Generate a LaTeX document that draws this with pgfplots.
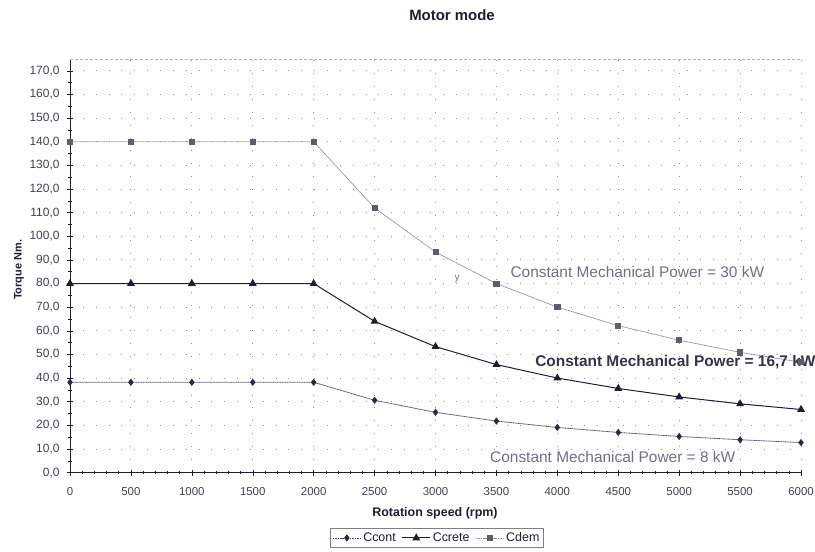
\documentclass[border=0pt]{standalone}
\usepackage{pgfplots}
\pgfplotsset{compat=1.18}
\usepackage{fontspec}
\setmainfont{Liberation Sans}

\definecolor{ink}{HTML}{1C1F33}
\definecolor{contline}{HTML}{4A4E64}
\definecolor{contmark}{HTML}{262A44}
\definecolor{demline}{HTML}{8E909C}
\definecolor{demmark}{HTML}{5A5E70}
\definecolor{gridc}{HTML}{8A8FA8}
\definecolor{notegray}{HTML}{6E7080}

% torque values (Nm)
\pgfplotstableread{
n     ccont  ccrete  cdem
0     38.2   80.0    140.0
500   38.2   80.0    140.0
1000  38.2   80.0    140.0
1500  38.2   80.0    140.0
2000  38.2   80.0    140.0
2500  30.6   64.0    112.0
3000  25.5   53.3    93.3
3500  21.8   45.7    80.0
4000  19.1   40.0    70.0
4500  17.0   35.6    62.2
5000  15.3   32.0    56.0
5500  13.9   29.1    50.9
6000  12.7   26.7    46.7
}\motordata

\begin{document}
\begin{tikzpicture}
\useasboundingbox (-70bp,-79.4bp) rectangle (745bp,472.6bp);
\begin{axis}[
  at={(0,0)}, anchor=south west,
  scale only axis, width=731bp, height=413.6bp,
  xmin=0, xmax=6000, ymin=0, ymax=175,
  clip=false,
  axis x line*=bottom, axis y line*=left,
  axis line style={ink, line width=0.6pt},
  xtick={0,500,...,6000}, ytick={0,10,...,170},
  minor x tick num=4, minor y tick num=1,
  tick align=center,
  major tick length=6bp, minor tick length=3bp,
  every tick/.style={ink, line width=0.5pt},
  grid=major,
  major grid style={gridc, line width=0.9pt, dash pattern=on 0.9pt off 12pt},
  /pgf/number format/assume math mode=true,
  /pgf/number format/1000 sep={},
  yticklabel style={/pgf/number format/fixed, /pgf/number format/fixed zerofill,
    /pgf/number format/precision=1, /pgf/number format/use comma,
    font=\fontsize{12}{12}\selectfont, text=ink!85, xshift=-4bp},
  xticklabel style={font=\fontsize{11.5}{11.5}\selectfont, text=ink!85, yshift=-8bp},
  xlabel={\bfseries Rotation speed (rpm)},
  xlabel style={at={(axis description cs:0.4993,-0.0977)}, anchor=center,
    font=\fontsize{12.5}{12.5}\selectfont, text=ink},
  ylabel={\bfseries Torque Nm.},
  ylabel style={at={(axis description cs:-0.0698,0.49)}, anchor=center,
    font=\fontsize{11}{11}\selectfont, text=ink},
  legend columns=-1,
  legend image code/.code={%
    \draw[mark repeat=2, mark phase=2] plot coordinates {(0bp,0bp) (14bp,0bp) (28bp,0bp)};},
  legend style={at={(axis description cs:0.502,-0.158)}, anchor=center,
    draw=gray, line width=0.5pt, font=\fontsize{12.5}{12.5}\selectfont,
    text=ink, inner sep=2bp,
    /tikz/every even column/.append style={column sep=4bp}},
]
\addplot[contline, line width=0.8pt, dash pattern=on 1.2pt off 0.5pt,
  mark=diamond*, mark size=3bp, mark options={solid, fill=contmark, draw=contmark}]
  table[x=n, y=ccont] {\motordata};
\addlegendentry{Ccont}
\addplot[ink, line width=1pt,
  mark=triangle*, mark size=3.6bp, mark options={solid, fill=ink, draw=ink}]
  table[x=n, y=ccrete] {\motordata};
\addlegendentry{Ccrete}
\addplot[demline, line width=0.8pt, dash pattern=on 1.2pt off 0.5pt,
  mark=square*, mark size=2.6bp, mark options={solid, fill=demmark, draw=demmark}]
  table[x=n, y=cdem] {\motordata};
\addlegendentry{Cdem}

\draw[gridc!70, line width=0.6pt, densely dashed] (rel axis cs:0,1) -- (rel axis cs:1,1);

\node[anchor=west, text=notegray, font=\fontsize{15.5}{15.5}\selectfont]
  at (axis cs:3587,84.7) {Constant Mechanical Power = 30 kW};
\node[anchor=west, text=ink!90, font=\bfseries\fontsize{15.5}{15.5}\selectfont]
  at (axis cs:3790,46.6) {Constant Mechanical Power = 16,7 kW};
\node[anchor=west, text=notegray, font=\fontsize{15.5}{15.5}\selectfont]
  at (axis cs:3420,6.8) {Constant Mechanical Power = 8 kW};
\node[text=notegray, font=\fontsize{10}{10}\selectfont] at (axis cs:3177,82) {y};
\end{axis}
\node[font=\bfseries\fontsize{15}{15}\selectfont, text=ink] at (382bp,457.6bp) {Motor mode};
\end{tikzpicture}
\end{document}
